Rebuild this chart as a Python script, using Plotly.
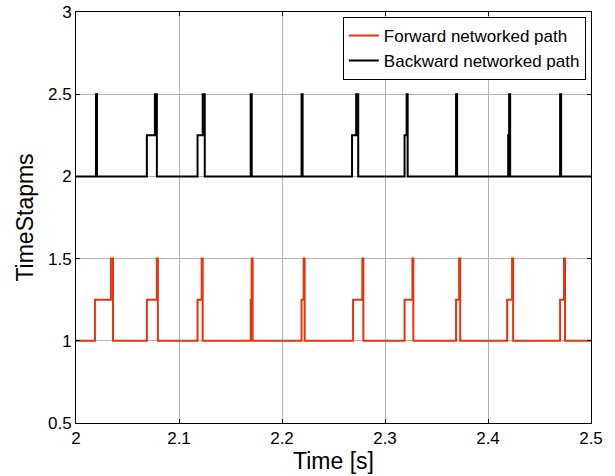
import plotly.graph_objects as go

# Forward networked path (red): step times and levels
fwd_t = [2.0, 2.0184, 2.0339, 2.0359, 2.0688, 2.0785, 2.0795, 2.118, 2.122, 2.123,
         2.1696, 2.1705, 2.1715, 2.219, 2.221, 2.222, 2.269, 2.278, 2.279,
         2.319, 2.3266, 2.3275, 2.369, 2.372, 2.373, 2.4186, 2.4234, 2.4244,
         2.470, 2.4738, 2.4748, 2.5]
fwd_v = [1, 1.25, 1.5, 1, 1.25, 1.5, 1, 1.25, 1.5, 1,
         1.25, 1.5, 1, 1.25, 1.5, 1, 1.25, 1.5, 1,
         1.25, 1.5, 1, 1.25, 1.5, 1, 1.25, 1.5, 1,
         1.25, 1.5, 1, 1]

# Backward networked path (black)
bwd_t = [2.0, 2.0194, 2.0204, 2.0688, 2.0766, 2.0785, 2.118, 2.123, 2.125,
         2.1696, 2.1706, 2.219, 2.220, 2.268, 2.272, 2.274, 2.319, 2.321, 2.322,
         2.369, 2.370, 2.4196, 2.4205, 2.4215, 2.470, 2.471, 2.5]
bwd_v = [2, 2.5, 2, 2.25, 2.5, 2, 2.25, 2.5, 2,
         2.5, 2, 2.5, 2, 2.25, 2.5, 2, 2.25, 2.5, 2,
         2.5, 2, 2.25, 2.5, 2, 2.5, 2, 2]

x_ticks = [2, 2.1, 2.2, 2.3, 2.4, 2.5]
x_labels = ["2", "2.1", "2.2", "2.3", "2.4", "2.5"]
y_ticks = [0.5, 1, 1.5, 2, 2.5, 3]
y_labels = ["0.5", "1", "1.5", "2", "2.5", "3"]

font = "Liberation Sans, Arial, sans-serif"

fig = go.Figure()
fig.add_trace(go.Scatter(x=fwd_t, y=fwd_v, mode="lines", line_shape="hv",
                         line=dict(color="#e8340c", width=2),
                         name="Forward networked path"))
fig.add_trace(go.Scatter(x=bwd_t, y=bwd_v, mode="lines", line_shape="hv",
                         line=dict(color="black", width=2),
                         name="Backward networked path"))

axis_common = dict(
    showline=True, linecolor="black", linewidth=1, mirror="ticks",
    ticks="inside", ticklen=4, tickcolor="black",
    showgrid=True, gridcolor="#b4b4b4", gridwidth=1,
    zeroline=False, automargin=False, ticklabeloverflow="allow",
    tickfont=dict(size=17, color="black", family=font),
)

fig.update_xaxes(range=[2, 2.5], tickvals=x_ticks, ticktext=x_labels,
                 title=dict(text="Time [s]", font=dict(size=23, family=font, color="black"),
                            standoff=1),
                 **axis_common)
fig.update_yaxes(range=[0.5, 3], tickvals=y_ticks, ticktext=y_labels,
                 title=dict(text="TimeStapms", font=dict(size=23, family=font, color="black"),
                            standoff=7),
                 **axis_common)

fig.update_layout(
    width=615, height=476,
    margin=dict(l=76, r=24, t=12, b=53),
    plot_bgcolor="white", paper_bgcolor="white",
    font=dict(family=font, color="black"),
    legend=dict(x=0.99, y=0.988, xanchor="right", yanchor="top",
                bgcolor="white", bordercolor="black", borderwidth=1,
                font=dict(size=17, family=font, color="black"),
                tracegroupgap=0, itemwidth=30),
)

# drop the default 8px body margin so the figure fills the window
fig.write_html("out.html", config={"displayModeBar": False},
               post_script="document.body.style.margin='0';")
